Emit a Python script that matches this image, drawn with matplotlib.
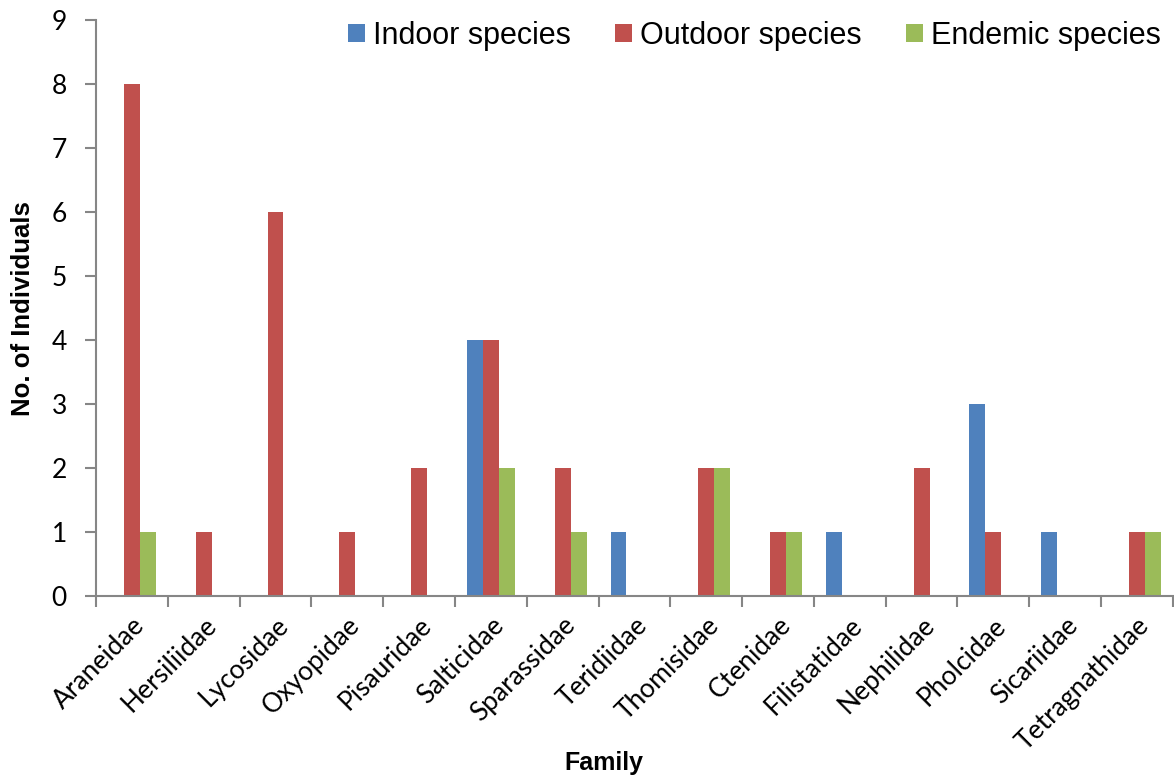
import numpy as np
import matplotlib.pyplot as plt

families = ["Araneidae", "Hersiliidae", "Lycosidae", "Oxyopidae", "Pisauridae",
            "Salticidae", "Sparassidae", "Teridiidae", "Thomisidae", "Ctenidae",
            "Filistatidae", "Nephilidae", "Pholcidae", "Sicariidae", "Tetragnathidae"]
indoor = [0, 0, 0, 0, 0, 4, 0, 1, 0, 0, 1, 0, 3, 1, 0]
outdoor = [8, 1, 6, 1, 2, 4, 2, 0, 2, 1, 0, 2, 1, 0, 1]
endemic = [1, 0, 0, 0, 0, 2, 1, 0, 2, 1, 0, 0, 0, 0, 1]
series_names = ["Indoor species", "Outdoor species", "Endemic species"]
colors = ["#4F81BD", "#C0504D", "#9BBB59"]

fig = plt.figure(figsize=(11.74, 7.75), dpi=100)
ax = fig.add_axes([0.0818, 0.231, 0.9172, 0.743])

x = np.arange(len(families))
w = 1 / 4.5
for i, (vals, name, c) in enumerate(zip([indoor, outdoor, endemic], series_names, colors)):
    ax.bar(x + (i - 1) * w, vals, width=w, color=c, label=name, zorder=2)

ax.set_xlim(-0.5, len(families) - 0.5)
ax.set_ylim(0, 9)
ax.set_yticks(range(10))

# category boundaries as ticks, labels at centers
ax.set_xticks(np.arange(-0.5, len(families)), labels=[])
ax.set_xticks(x, minor=True)
ax.set_xticklabels(families, minor=True, rotation=45, ha="right",
                   rotation_mode="anchor", fontsize=19, family="Lato")
ax.tick_params(axis="x", which="minor", length=0, pad=12)
ax.tick_params(axis="x", which="major", length=8, width=1.5, color="#868686")
ax.tick_params(axis="y", length=8, width=1.5, color="#868686", labelsize=19, pad=13)
for lbl in ax.get_yticklabels():
    lbl.set_family("Lato")

for s in ["top", "right"]:
    ax.spines[s].set_visible(False)
for s in ["left", "bottom"]:
    ax.spines[s].set_color("#868686")
    ax.spines[s].set_linewidth(1.5)

ax.set_ylabel("No. of Individuals", fontsize=18.5, fontweight="bold",
              family="Liberation Sans")
ax.yaxis.set_label_coords(-0.057, 0.5)
ax.set_xlabel("Family", fontsize=18, fontweight="bold", family="Liberation Sans")
ax.xaxis.set_label_coords(0.472, -0.27)

ax.legend(loc="upper right", ncol=3, frameon=False,
          prop={"family": "Liberation Sans", "size": 22},
          handlelength=0.55, handleheight=0.55, handletextpad=0.26,
          columnspacing=1.45, borderaxespad=0, bbox_to_anchor=(1.0, 1.02))

fig.savefig("out.png", dpi=100)
